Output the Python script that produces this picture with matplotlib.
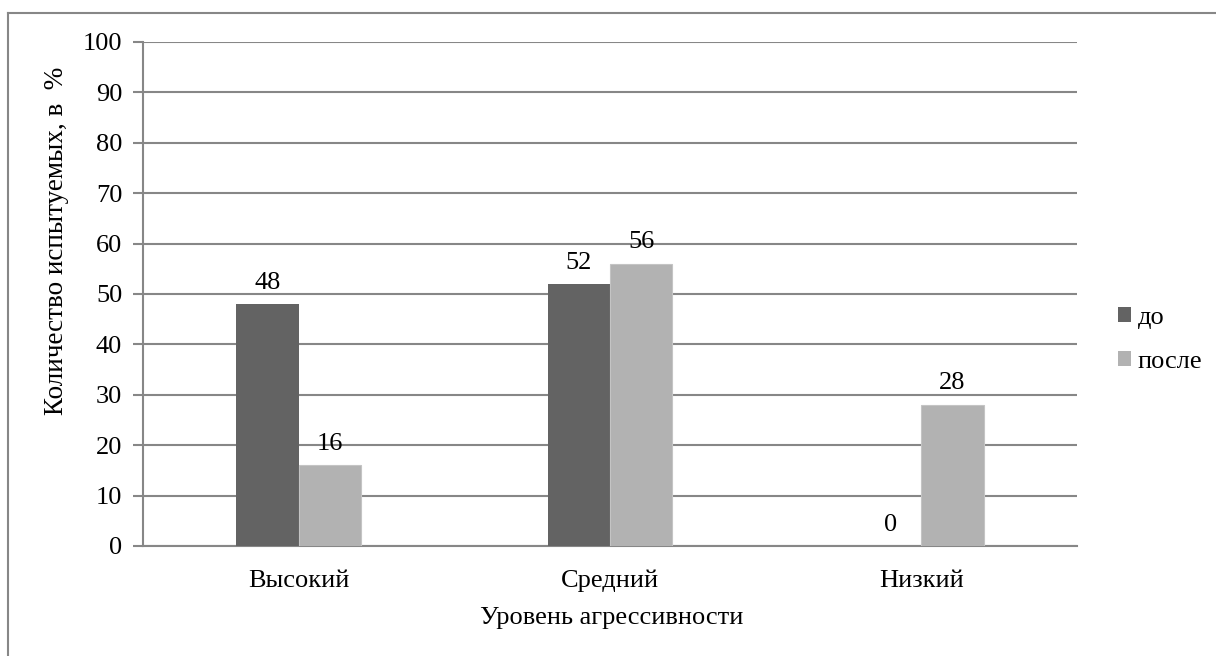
import matplotlib
matplotlib.use("Agg")
import matplotlib.pyplot as plt
import numpy as np
from matplotlib.lines import Line2D
from matplotlib.patches import Patch

categories = ["Высокий", "Средний", "Низкий"]
before = [48, 52, 0]
after = [16, 56, 28]
series_names = ["до", "после"]
y_ticks = [0, 10, 20, 30, 40, 50, 60, 70, 80, 90, 100]

plt.rcParams["font.family"] = ["Liberation Serif", "DejaVu Serif"]

W, H = 1216, 656
fig = plt.figure(figsize=(W / 100, H / 100), dpi=100)
ax = fig.add_axes([143 / W, 1 - 546 / H, (1077 - 143) / W, (546 - 42) / H])

grid_c = "#878787"
dark = "#636363"
light = "#b2b2b2"
fs = 19

x = np.arange(len(categories))
w = 0.2
b1 = ax.bar(x - w / 2, before, w, color=dark, zorder=3)
b2 = ax.bar(x + w / 2, after, w, color=light, edgecolor="#c4c4c4", linewidth=0.8, zorder=3)

for bars, vals in ((b1, before), (b2, after)):
    for rect, v in zip(bars, vals):
        ax.annotate(str(v), (rect.get_x() + rect.get_width() / 2, v),
                    xytext=(0, 7.5), textcoords="offset points",
                    ha="center", va="bottom", fontsize=fs, color="black")

ax.set_xlim(-0.5, 2.5)
ax.set_ylim(0, 100)
ax.set_yticks(y_ticks)
ax.set_xticks(x)
ax.set_xticklabels(categories, fontsize=fs)
ax.tick_params(axis="y", labelsize=fs, length=7, width=1.5, color=grid_c, pad=8)
ax.tick_params(axis="x", length=0, pad=17)
ax.yaxis.grid(True, color=grid_c, linewidth=1.5, zorder=0)
ax.set_axisbelow(True)
for s in ("top", "right"):
    ax.spines[s].set_visible(False)
for s in ("left", "bottom"):
    ax.spines[s].set_color(grid_c)
    ax.spines[s].set_linewidth(1.5)

# axis titles
fig.text(57 / W, 1 - 241 / H, "Количество испытуемых, в  %", rotation=90,
         ha="center", va="center", fontsize=19.5)
fig.text(612 / W, 1 - 618 / H, "Уровень агрессивности", ha="center", va="center", fontsize=fs)

handles = [Patch(facecolor=dark), Patch(facecolor=light)]
fig.legend(handles, series_names, loc="center left", bbox_to_anchor=(1118 / W, 1 - 340 / H),
           frameon=False, fontsize=fs, handlelength=0.5, handleheight=0.5,
           handletextpad=0.25, labelspacing=0.85, borderpad=0, borderaxespad=0)

# outer frame around the chart
fig.add_artist(Line2D([8 / W, 8 / W], [0, 1 - 13 / H], transform=fig.transFigure,
                      color=grid_c, linewidth=1.5))
fig.add_artist(Line2D([8 / W, 1], [1 - 13 / H, 1 - 13 / H], transform=fig.transFigure,
                      color=grid_c, linewidth=1.5))

fig.savefig("out.png", dpi=100, facecolor="white")
